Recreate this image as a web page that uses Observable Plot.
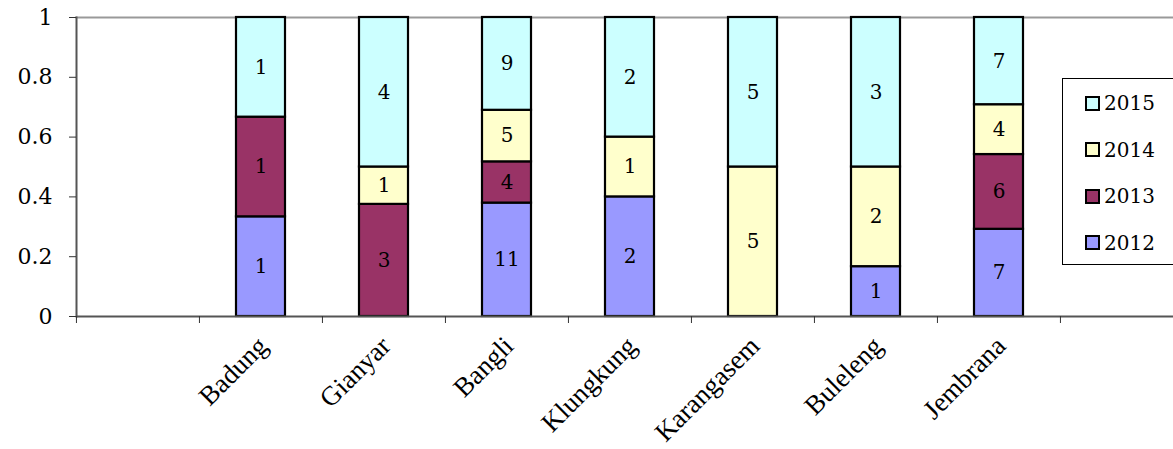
<!DOCTYPE html>
<html>
<head>
<meta charset="utf-8">
<script src="https://cdn.jsdelivr.net/npm/d3@7"></script>
<script src="https://cdn.jsdelivr.net/npm/@observablehq/plot@0.6"></script>
<style>
  html, body { margin: 0; padding: 0; background: #fff; overflow: hidden; }
  #wrap { position: relative; width: 1173px; height: 449px; overflow: hidden; }
  #legend { position: absolute; left: 1062px; top: 78px; width: 130px; height: 185px; border: 1px solid #000; background: #fff; font-family: "DejaVu Serif", serif; font-size: 20px; color: #000; }
  .item { position: absolute; left: 22px; display: flex; align-items: center; }
  .sw { width: 11px; height: 11px; border: 2px solid #000; margin-right: 4px; }
</style>
</head>
<body>
<div id="wrap"></div>
<script>
const categories = ["Badung", "Gianyar", "Bangli", "Klungkung", "Karangasem", "Buleleng", "Jembrana"];
const years = ["2012", "2013", "2014", "2015"];
const v2012 = [1, 0, 11, 2, 0, 1, 7];
const v2013 = [1, 3, 4, 0, 0, 0, 6];
const v2014 = [0, 1, 5, 1, 5, 2, 4];
const v2015 = [1, 4, 9, 2, 5, 3, 7];
const colors = ["#9999FF", "#993366", "#FFFFCC", "#CCFFFF"];
const yTicks = [0, 0.2, 0.4, 0.6, 0.8, 1];

const series = [v2012, v2013, v2014, v2015];
const data = [];
years.forEach((yr, j) => categories.forEach((c, i) => data.push({cat: c, year: yr, value: series[j][i]})));

const slots = ["_a", ...categories, "_b"];
const xRange = [76, 1184];
const step = (xRange[1] - xRange[0]) / slots.length;
const W = 1173, H = 449, mt = 17, mb = 133;

const chart = Plot.plot({
  width: W, height: H,
  marginTop: mt, marginBottom: mb, marginLeft: 76, marginRight: 0,
  style: {fontFamily: "DejaVu Serif, serif", background: "#fff", color: "#000"},
  x: {domain: slots, range: xRange, paddingInner: 0.6, paddingOuter: 0.3, align: 0.5, label: null},
  y: {domain: [0, 1], label: null},
  color: {domain: years, range: colors},
  marks: [
    Plot.frame({anchor: "top", stroke: "#999", strokeWidth: 2}),
    Plot.barY(data, Plot.stackY({x: "cat", y: "value", fill: "year", offset: "normalize", stroke: "#000", strokeWidth: 2.2})),
    Plot.text(data, Plot.stackY({x: "cat", y: "value", z: "year", offset: "normalize", text: "value", filter: d => d.value > 0, fontSize: 20, fill: "#000"})),
    Plot.ruleY([0], {stroke: "#555", strokeWidth: 2}),
    Plot.frame({anchor: "left", stroke: "#555", strokeWidth: 2}),
    Plot.axisY({ticks: yTicks, tickSize: 7, tickPadding: 17, tickFormat: d => String(+d.toFixed(1)), fontSize: 22, label: null, stroke: "#333"}),
    Plot.axisX({tickSize: 7, dx: -step / 2, text: null, stroke: "#333", label: null}),
    Plot.axisX({tickSize: 0, tickPadding: 25, tickRotate: -45, dx: 2, fontSize: 27, label: null,
      fontFamily: "Liberation Serif, serif",
      tickFormat: d => categories.includes(d) ? d : ""})
  ]
});
document.getElementById("wrap").appendChild(chart);

const legend = document.createElement("div");
legend.id = "legend";
[3, 2, 1, 0].forEach((j, k) => {
  const it = document.createElement("div");
  it.className = "item";
  it.style.top = (12 + k * 46.5) + "px";
  const sw = document.createElement("span");
  sw.className = "sw";
  sw.style.background = colors[j];
  const tx = document.createElement("span");
  tx.textContent = years[j];
  it.appendChild(sw); it.appendChild(tx);
  legend.appendChild(it);
});
document.getElementById("wrap").appendChild(legend);
</script>
</body>
</html>
